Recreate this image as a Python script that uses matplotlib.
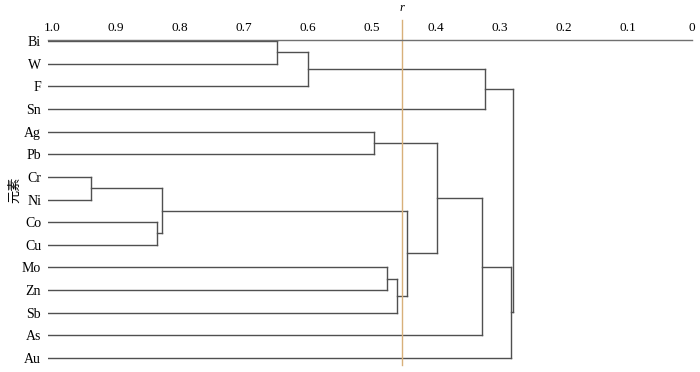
import matplotlib
matplotlib.use("Agg")
import matplotlib.pyplot as plt

plt.rcParams['font.family'] = ['Liberation Serif', 'Noto Sans CJK SC', 'DejaVu Sans']

# leaves, top to bottom
labels = ['Bi', 'W', 'F', 'Sn', 'Ag', 'Pb', 'Cr', 'Ni', 'Co', 'Cu',
          'Mo', 'Zn', 'Sb', 'As', 'Au']

# merges: ids 0..14 are leaves, merge k creates cluster 15+k
merge_left = [0, 15, 16, 4, 6, 8, 19, 10, 22, 21, 18, 25, 26, 17]
merge_right = [1, 2, 3, 5, 7, 9, 20, 11, 12, 23, 24, 13, 14, 27]
merge_r = [0.648, 0.600, 0.323, 0.497, 0.939, 0.836, 0.828,
           0.477, 0.461, 0.445, 0.398, 0.328, 0.283, 0.280]

cut_r = 0.453
leaf_r = 1.006

fig = plt.figure(figsize=(7, 3.72), dpi=100)
ax = fig.add_axes([48 / 700, 7 / 372, 644 / 700, 325.5 / 372])

line_col = '#505050'
pos_y = {i: float(i) for i in range(len(labels))}
pos_r = {i: leaf_r for i in range(len(labels))}

for k, (a, b, r) in enumerate(zip(merge_left, merge_right, merge_r)):
    ya, yb = pos_y[a], pos_y[b]
    ax.plot([pos_r[a], r], [ya, ya], color=line_col, lw=1)
    ax.plot([pos_r[b], r], [yb, yb], color=line_col, lw=1)
    ax.plot([r, r], [ya, yb], color=line_col, lw=1)
    new = len(labels) + k
    pos_y[new] = (ya + yb) / 2
    pos_r[new] = r

# threshold line
ax.plot([cut_r, cut_r], [-0.93, 14.31], color='#d8b07a', lw=1, clip_on=False)
ax.text(cut_r, -1.2, 'r', style='italic', ha='center', va='bottom', fontsize=9)

ax.set_xlim(leaf_r, 0)
ax.set_ylim(14.31, -0.07)
ax.xaxis.tick_top()
ax.set_xticks([1.0, 0.9, 0.8, 0.7, 0.6, 0.5, 0.4, 0.3, 0.2, 0.1, 0])
ax.set_xticklabels(['1.0', '0.9', '0.8', '0.7', '0.6', '0.5', '0.4',
                    '0.3', '0.2', '0.1', '0'])
ax.set_yticks(range(len(labels)))
ax.set_yticklabels(labels)
ax.tick_params(axis='both', length=0)
ax.tick_params(axis='x', pad=4, labelsize=9.5)
ax.tick_params(axis='y', pad=5, labelsize=10)

for side in ['bottom', 'left', 'right']:
    ax.spines[side].set_visible(False)
ax.spines['top'].set_color('#707070')
ax.spines['top'].set_linewidth(1)

fig.text(15 / 700, 1 - 190 / 372, '元素', rotation=90, ha='center', va='center',
         fontsize=9.5, family=['Noto Sans CJK SC'])

fig.savefig('out.png', dpi=100)
